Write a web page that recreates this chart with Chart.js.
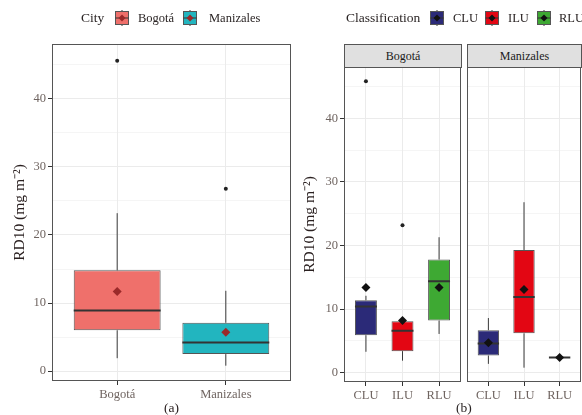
<!DOCTYPE html>
<html>
<head>
<meta charset="utf-8">
<script src="https://cdn.jsdelivr.net/npm/chart.js@4.4.0/dist/chart.umd.min.js"></script>
<style>
  body { margin: 0; background: #fff; font-family: 'Liberation Serif', serif; }
  #wrap { position: relative; width: 582px; height: 415px; overflow: hidden; }
  canvas { position: absolute; top: 0; }
  .txt { position: absolute; font-size: 12.5px; color: #2a2424; white-space: nowrap; line-height: 14px; }
  .ttl { font-size: 13.5px; }
  .key { position: absolute; top: 10px; width: 16px; height: 16px; }
  .strip { position: absolute; top: 44px; height: 24px; background: #e0e0e0; border: 1px solid #555;
           box-sizing: border-box; text-align: center; font-size: 12px; line-height: 22px; color: #1a1a1a; }
</style>
</head>
<body>
<div id="wrap">
  <canvas id="chartA" width="293" height="415" style="left:0;width:293px;height:415px"></canvas>
  <canvas id="chartB1" width="172" height="415" style="left:291px;width:172px;height:415px"></canvas>
  <canvas id="chartB2" width="118" height="415" style="left:464px;width:118px;height:415px"></canvas>
  <div class="strip" style="left:344px;width:118px">Bogotá</div>
  <div class="strip" style="left:467px;width:115px">Manizales</div>
  <div id="legendA"></div>
  <div id="legendB"></div>
  <div class="txt ttl" style="left:456px;top:401px">(b)</div>
</div>
<script>
// panel (a): RD10 by city
const cities = ['Bogotá', 'Manizales'];
const cityColors = ['#ef706b', '#22b5bf'];
const cityLow = [1.9, 0.8];
const cityQ1 = [6.0, 2.5];
const cityMedian = [8.9, 4.2];
const cityQ3 = [14.8, 7.1];
const cityHigh = [23.2, 11.8];
const cityMean = [11.7, 5.7];
const cityOutliers = [[45.6], [26.8]];

// panel (b): RD10 by land-use classification, faceted by city
const classes = ['CLU', 'ILU', 'RLU'];
const classColors = ['#2b2a78', '#e30613', '#3ea933'];
const bogLow = [3.3, 1.9, 6.1];
const bogQ1 = [5.9, 3.4, 8.2];
const bogMedian = [10.4, 6.6, 14.4];
const bogQ3 = [11.4, 8.1, 17.8];
const bogHigh = [12.1, 8.1, 21.3];
const bogMean = [13.4, 8.2, 13.4];
const bogOutliers = [[45.8], [23.2], []];

const manLow = [1.4, 0.8, 2.4];
const manQ1 = [2.7, 6.2, 2.4];
const manMedian = [4.6, 11.9, 2.4];
const manQ3 = [6.7, 19.3, 2.4];
const manHigh = [8.6, 26.8, 2.4];
const manMean = [4.7, 13.1, 2.4];
const manOutliers = [[], [], []];

const yMajor = [0, 10, 20, 30, 40];
const yMinor = [5, 15, 25, 35, 45];
const yMin = -1.45, yMax = 48.05;

const tickColor = '#6f6460';
const titleColor = '#2a2020';
const gridColor = '#ebebeb';
const FONT = "'Liberation Serif', serif";

function boxDatasets(s, colors, width, meanColor) {
  const xs = s.low.map((_, i) => i + 1);
  const half = width / 2;
  const whiskers = [], medians = [], outs = [];
  xs.forEach((x, i) => {
    whiskers.push({x, y: s.low[i]}, {x, y: s.q1[i]}, {x, y: null},
                  {x, y: s.q3[i]}, {x, y: s.high[i]}, {x, y: null});
    medians.push({x: x - half, y: s.med[i]}, {x: x + half, y: s.med[i]}, {x, y: null});
    s.out[i].forEach(v => outs.push({x, y: v}));
  });
  return [
    { type: 'line', data: whiskers, borderColor: '#3a3a3a', borderWidth: 1, pointRadius: 0, order: 4 },
    { type: 'bar', data: xs.map((x, i) => ({x, y: [s.q1[i], s.q3[i]]})),
      backgroundColor: colors, borderColor: '#555', borderWidth: 1, borderSkipped: false,
      barPercentage: width, categoryPercentage: 1, order: 3 },
    { type: 'line', data: medians, borderColor: '#333', borderWidth: 2, pointRadius: 0, order: 2 },
    { type: 'scatter', data: outs, pointRadius: 2, backgroundColor: '#222', borderWidth: 0, order: 1 },
    { type: 'scatter', data: xs.map((x, i) => ({x, y: s.mean[i]})), pointStyle: 'rectRot',
      pointRadius: 4.5, backgroundColor: meanColor, borderWidth: 0, order: 0 }
  ];
}

const panelBorder = {
  id: 'panelBorder',
  afterDraw(chart) {
    const {ctx, chartArea: a} = chart;
    ctx.save();
    ctx.strokeStyle = '#555';
    ctx.lineWidth = 1;
    ctx.strokeRect(a.left + 0.5, a.top + 0.5, a.right - a.left - 1, a.bottom - a.top - 1);
    ctx.restore();
  }
};

function makePanel(id, labels, series, colors, width, meanColor, cfg) {
  return new Chart(document.getElementById(id), {
    type: 'bar',
    data: { datasets: boxDatasets(series, colors, width, meanColor) },
    plugins: [panelBorder],
    options: {
      responsive: false,
      animation: false,
      layout: { padding: cfg.padding, autoPadding: false },
      plugins: { legend: { display: false }, tooltip: { enabled: false } },
      scales: {
        x: {
          type: 'linear', offset: false, bounds: 'data',
          min: 0.4, max: labels.length + 0.6,
          afterBuildTicks: sc => { sc.ticks = labels.map((_, i) => ({value: i + 1})); },
          afterFit: sc => { sc.height = cfg.xHeight; },
          ticks: { autoSkip: false, maxRotation: 0, padding: 2, color: tickColor,
                   font: { family: FONT, size: 12.5 }, callback: v => labels[v - 1] },
          grid: { offset: false, color: gridColor, tickColor: '#333', tickLength: 4 },
          border: { display: false },
          title: { display: !!cfg.xTitle, text: cfg.xTitle, color: titleColor,
                   font: { family: FONT, size: 13.5, lineHeight: 1 }, padding: { top: 0, bottom: 0 } }
        },
        y: {
          min: yMin, max: yMax, bounds: 'data',
          afterBuildTicks: sc => {
            sc.ticks = yMajor.concat(yMinor).sort((a, b) => a - b).map(v => ({value: v}));
          },
          afterFit: sc => { sc.width = cfg.yWidth; },
          ticks: { display: cfg.yTicks, padding: 2, color: tickColor,
                   font: { family: FONT, size: 12.5 },
                   callback: v => (yMajor.includes(v) ? v : '') },
          grid: {
            color: gridColor,
            lineWidth: c => (c.tick && yMajor.includes(c.tick.value) ? 1 : 0.5),
            drawTicks: cfg.yTicks,
            tickLength: 4,
            tickColor: c => (c.tick && yMajor.includes(c.tick.value) ? '#333' : 'rgba(0,0,0,0)')
          },
          border: { display: false },
          title: { display: cfg.yTicks, text: 'RD10 (mg m⁻²)', color: titleColor,
                   font: { family: FONT, size: 15.5 }, padding: { top: cfg.yTitlePad || 0, bottom: 0 } }
        }
      }
    }
  });
}

makePanel('chartA', cities,
  { low: cityLow, q1: cityQ1, med: cityMedian, q3: cityQ3, high: cityHigh, mean: cityMean, out: cityOutliers },
  cityColors, 0.8, '#9a2a2a',
  { padding: { top: 44, right: 2, left: 0, bottom: 0 }, xHeight: 34, yWidth: 52, yTicks: true,
    yTitlePad: 10.7, xTitle: '(a)' });

makePanel('chartB1', classes,
  { low: bogLow, q1: bogQ1, med: bogMedian, q3: bogQ3, high: bogHigh, mean: bogMean, out: bogOutliers },
  classColors, 0.6, '#111',
  { padding: { top: 67, right: 2, left: 0, bottom: 0 }, xHeight: 33, yWidth: 53, yTicks: true,
    yTitlePad: 9.7 });

makePanel('chartB2', classes,
  { low: manLow, q1: manQ1, med: manMedian, q3: manQ3, high: manHigh, mean: manMean, out: manOutliers },
  classColors, 0.6, '#111',
  { padding: { top: 67, right: 1, left: 0, bottom: 0 }, xHeight: 33, yWidth: 3, yTicks: false });

// legends (ggplot-style box keys)
function keyIcon(fill, meanFill) {
  return '<svg width="16" height="16">' +
    '<line x1="8" y1="0" x2="8" y2="16" stroke="#333"/>' +
    '<rect x="1.5" y="1.5" width="13" height="13" fill="' + fill + '" stroke="#555"/>' +
    '<line x1="1.5" y1="8" x2="14.5" y2="8" stroke="#333"/>' +
    '<path d="M8 4.5 L11.5 8 L8 11.5 L4.5 8Z" fill="' + meanFill + '"/></svg>';
}
function buildLegend(elId, title, titleX, names, colors, meanColor, keyXs, textXs) {
  let html = '<div class="txt ttl" style="left:' + titleX + 'px;top:11px">' + title + '</div>';
  names.forEach((n, i) => {
    html += '<div class="key" style="left:' + keyXs[i] + 'px">' + keyIcon(colors[i], meanColor) + '</div>';
    html += '<div class="txt" style="left:' + textXs[i] + 'px;top:11px">' + n + '</div>';
  });
  document.getElementById(elId).innerHTML = html;
}
buildLegend('legendA', 'City', 81, cities, cityColors, '#9a2a2a', [114, 182], [138, 209]);
buildLegend('legendB', 'Classification', 346, classes, classColors, '#111', [429, 484, 536], [453, 508, 559]);
</script>
</body>
</html>
